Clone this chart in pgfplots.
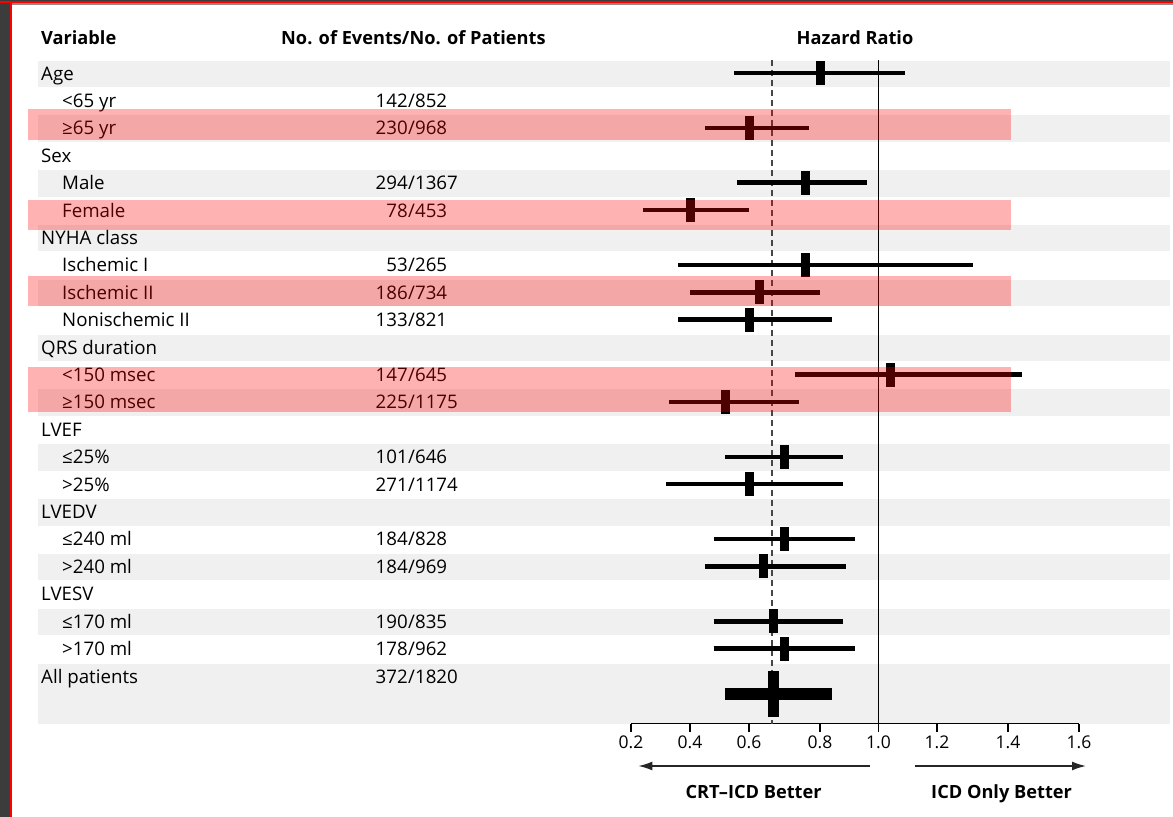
\documentclass[border=0pt]{standalone}
\usepackage{fontspec}
\setmainfont{Open Sans}
\usepackage{pgfplots}
\pgfplotsset{compat=1.18}
\usetikzlibrary{arrows.meta}
\definecolor{bandgray}{RGB}{240,240,240}
\definecolor{framegray}{RGB}{60,60,60}
\definecolor{dashgray}{RGB}{70,70,70}
\newcommand{\rowfont}{\fontsize{18.7bp}{22bp}\selectfont}
\newcommand{\headfont}{\fontsize{18.2bp}{21bp}\selectfont\bfseries}
\pgfdeclareplotmark{hrbox}{\pgfpathrectangle{\pgfpoint{-4.5bp}{-12bp}}{\pgfpoint{9bp}{24bp}}\pgfusepathqfill}
\pgfdeclareplotmark{allbox}{\pgfpathrectangle{\pgfpoint{-5.5bp}{-23bp}}{\pgfpoint{11bp}{46bp}}\pgfusepathqfill}
\begin{document}
\begin{tikzpicture}
\path[use as bounding box] (0,0) rectangle (1173bp,-817bp);
\begin{scope}[x=1bp,y=-1bp]
  % frame
  \fill[framegray] (0,0) rectangle (9.5,817);
  \fill[red] (9.5,0) rectangle (12,817);
  \fill[framegray] (0,0) rectangle (1173,1);
  \fill[red] (0,1) rectangle (1173,3.3);
  \fill[black!45] (12,3.3) rectangle (1173,5);
  % bands
  \foreach \r in {0,2,...,20} {
    \fill[bandgray] (38,{73+27.41*\r-12.5}) rectangle (1170,{73+27.41*\r+14});
  }
  \fill[bandgray] (38,664) rectangle (1170,724);
  % headers
  \node[anchor=base west, inner sep=0, font=\headfont] at (41,44.5) {Variable};
  \node[anchor=base west, inner sep=0, font=\headfont] at (281,44.5) {No. of Events/No. of Patients};
  \node[anchor=base, inner sep=0, font=\headfont] at (855,44.5) {Hazard Ratio};
  % row labels
  \foreach \r/\t in {0/Age,3/Sex,6/NYHA class,10/QRS duration,13/LVEF,16/LVEDV,19/LVESV,22/All patients} {
    \node[anchor=base west, inner sep=0, font=\rowfont] at (41,{80+27.41*\r}) {\t};
  }
  \foreach \r/\t in {1/{<65 yr},2/{≥65 yr},4/Male,5/Female,7/Ischemic I,8/Ischemic II,9/Nonischemic II,11/{<150 msec},12/{≥150 msec},14/{≤25\%},15/{>25\%},17/{≤240 ml},18/{>240 ml},20/{≤170 ml},21/{>170 ml}} {
    \node[anchor=base west, inner sep=0, font=\rowfont] at (62,{80+27.41*\r}) {\t};
  }
  % events / patients
  \foreach \r/\a/\b in {1/142/852,2/230/968,4/294/1367,5/78/453,7/53/265,8/186/734,9/133/821,11/147/645,12/225/1175,14/101/646,15/271/1174,17/184/828,18/184/969,20/190/835,21/178/962,22/372/1820} {
    \node[anchor=base east, inner sep=0, font=\rowfont] at (408,{80+27.41*\r}) {\a};
    \node[anchor=base west, inner sep=0, font=\rowfont] at (408,{80+27.41*\r}) {/\b};
  }
\end{scope}
\begin{axis}[
  at={(631bp,-723.5bp)}, anchor=south west,
  width=448bp, height=663.5bp, scale only axis,
  x coord trafo/.code={%
    \begingroup
    \pgfkeys{/pgf/fpu=true,/pgf/fpu/output format=fixed}%
    \pgfmathparse{(#1<0.6) ? (631+(#1-0.2)*295) : ((#1<0.8) ? (749+(#1-0.6)*355) : ((#1<1.2) ? (820+(#1-0.8)*292.5) : (937+(#1-1.2)*355)))}%
    \xdef\hrtrafotmp{\pgfmathresult}%
    \endgroup
    \let\pgfmathresult\hrtrafotmp
  },
  xmin=0.2, xmax=1.6, ymin=-23.73, ymax=0.474,
  axis x line*=bottom, axis y line=none,
  x axis line style={-, line width=1.3bp},
  xtick={0.2,0.4,0.6,0.8,1.0,1.2,1.4,1.6},
  xticklabels={0.2,0.4,0.6,0.8,1.0,1.2,1.4,1.6},
  tick align=outside, major tick length=8.5bp,
  xtick style={line width=1.3bp, black},
  xticklabel style={font=\fontsize{17.5bp}{20bp}\selectfont},
  clip=false,
]
% reference lines
\addplot[line width=1.3bp, black] coordinates {(1.0,0.474) (1.0,-23.73)};
\addplot[line width=1.5bp, dashgray, dash pattern=on 6bp off 4bp] coordinates {(0.665,0.474) (0.665,-23.73)};
% confidence intervals (row index r plotted at y=-r)
\addplot[line width=4.5bp, black] coordinates {(0.55,0) (1.09,0)};
\addplot[line width=4.5bp, black] coordinates {(0.45,-2) (0.77,-2)};
\addplot[line width=4.5bp, black] coordinates {(0.56,-4) (0.96,-4)};
\addplot[line width=4.5bp, black] coordinates {(0.24,-5) (0.60,-5)};
\addplot[line width=4.5bp, black] coordinates {(0.36,-7) (1.30,-7)};
\addplot[line width=4.5bp, black] coordinates {(0.40,-8) (0.80,-8)};
\addplot[line width=4.5bp, black] coordinates {(0.36,-9) (0.84,-9)};
\addplot[line width=4.5bp, black] coordinates {(0.73,-11) (1.44,-11)};
\addplot[line width=4.5bp, black] coordinates {(0.33,-12) (0.74,-12)};
\addplot[line width=4.5bp, black] coordinates {(0.52,-14) (0.88,-14)};
\addplot[line width=4.5bp, black] coordinates {(0.32,-15) (0.88,-15)};
\addplot[line width=4.5bp, black] coordinates {(0.48,-17) (0.92,-17)};
\addplot[line width=4.5bp, black] coordinates {(0.45,-18) (0.89,-18)};
\addplot[line width=4.5bp, black] coordinates {(0.48,-20) (0.88,-20)};
\addplot[line width=4.5bp, black] coordinates {(0.48,-21) (0.92,-21)};
\addplot[line width=12bp, black] coordinates {(0.52,-22.64) (0.84,-22.64)};
% hazard ratios
\addplot[only marks, mark=hrbox, black] coordinates {
  (0.80,0) (0.60,-2) (0.76,-4) (0.40,-5) (0.76,-7) (0.63,-8) (0.60,-9)
  (1.04,-11) (0.52,-12) (0.70,-14) (0.60,-15) (0.70,-17) (0.64,-18)
  (0.67,-20) (0.70,-21)};
\addplot[only marks, mark=allbox, black] coordinates {(0.67,-22.64)};
\end{axis}
\begin{scope}[x=1bp,y=-1bp]
  % highlighted rows
  \fill[red, opacity=0.3] (28,109) rectangle (1011,140);
  \fill[red, opacity=0.3] (28,200) rectangle (1011,229.5);
  \fill[red, opacity=0.3] (28,276) rectangle (1011,306);
  \fill[red, opacity=0.3] (28,367) rectangle (1011,412);
  % direction arrows
  \draw[line width=1.5bp, black!85, -{Latex[length=14bp,width=9bp]}] (870.4,766) -- (638.4,766);
  \draw[line width=1.5bp, black!85, -{Latex[length=14bp,width=9bp]}] (915,766) -- (1086,766);
  \node[anchor=base, inner sep=0, font=\headfont] at (753.6,798) {CRT–ICD Better};
  \node[anchor=base, inner sep=0, font=\headfont] at (1001.6,798) {ICD Only Better};
\end{scope}
\end{tikzpicture}
\end{document}
